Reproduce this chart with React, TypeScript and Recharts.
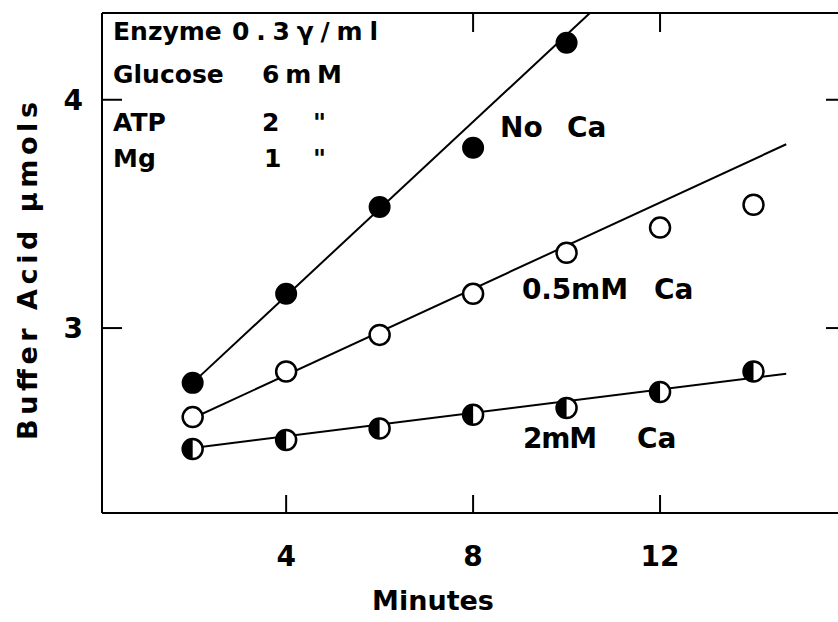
import React from 'react';
import { ComposedChart, Scatter, XAxis, YAxis } from 'recharts';

const minutes = [2, 4, 6, 8, 10, 12, 14];
const noCa = [2.76, 3.15, 3.53, 3.79, 4.25];
const ca05 = [2.61, 2.81, 2.97, 3.15, 3.33, 3.44, 3.54];
const ca2 = [2.47, 2.51, 2.56, 2.62, 2.65, 2.72, 2.81];

// hand-drawn fit lines of the original figure
const fitNoCa = [{ x: 2, y: 2.76 }, { x: 10.5, y: 4.38 }];
const fitCa05 = [{ x: 2, y: 2.605 }, { x: 14.7, y: 3.805 }];
const fitCa2 = [{ x: 2, y: 2.475 }, { x: 14.7, y: 2.8 }];

const xTicks = [4, 8, 12];
const xTopTicks = [8, 12];
const yTicks = [3, 4];

const toPoints = (vals: number[]) => vals.map((y, i) => ({ x: minutes[i], y }));

const FONT = '"DejaVu Sans", sans-serif';
const txt = (size: number) => ({ fontFamily: FONT, fontWeight: 700, fontSize: size, fill: '#000' });

const R = 10;

const FilledDot = ({ cx, cy }: any) => (
  <circle cx={cx} cy={cy} r={R} fill="#000" stroke="#000" strokeWidth={2} />
);

const OpenDot = ({ cx, cy }: any) => (
  <circle cx={cx} cy={cy} r={R} fill="#fff" stroke="#000" strokeWidth={2.5} />
);

const HalfDot = ({ cx, cy }: any) => (
  <g>
    <circle cx={cx} cy={cy} r={R} fill="#fff" stroke="#000" strokeWidth={2.5} />
    <path d={`M${cx},${cy - R} A${R},${R} 0 0 0 ${cx},${cy + R} Z`} fill="#000" />
  </g>
);

const NoDot = () => <g />;

const BottomTick = ({ x, y, payload }: any) => (
  <g>
    <line x1={x} y1={y} x2={x} y2={y - 18} stroke="#000" strokeWidth={2} />
    <text x={x} y={y + 53} textAnchor="middle" style={txt(28)}>{payload.value}</text>
  </g>
);

const TopTick = ({ x, y }: any) => (
  <line x1={x} y1={y} x2={x} y2={y + 19} stroke="#000" strokeWidth={2} />
);

const LeftTick = ({ x, y, payload }: any) => (
  <g>
    <line x1={x} y1={y} x2={x + 20} y2={y} stroke="#000" strokeWidth={2} />
    <text x={x - 19} y={y + 10} textAnchor="end" style={txt(28)}>{payload.value}</text>
  </g>
);

const RightTick = ({ x, y }: any) => (
  <line x1={x} y1={y} x2={x - 21} y2={y} stroke="#000" strokeWidth={2} />
);

const axisLine = { stroke: '#000', strokeWidth: 2 };
const fitLine = { stroke: '#000', strokeWidth: 2 };

export default function App() {
  return (
    <div style={{ position: 'absolute', left: 0, top: 0, width: 838, height: 622, overflow: 'hidden', background: '#fff' }}>
      <ComposedChart width={850} height={622} margin={{ top: 12, right: 2, bottom: 49, left: 42 }}>
        <XAxis
          xAxisId={0}
          dataKey="x"
          type="number"
          domain={[0.06, 16]}
          allowDataOverflow
          ticks={xTicks}
          interval={0}
          height={60}
          tickSize={0}
          tickMargin={0}
          tickLine={false}
          axisLine={axisLine}
          tick={<BottomTick />}
        />
        <XAxis
          xAxisId="top"
          orientation="top"
          dataKey="x"
          type="number"
          domain={[0.06, 16]}
          allowDataOverflow
          ticks={xTopTicks}
          interval={0}
          height={1}
          tickSize={0}
          tickMargin={0}
          tickLine={false}
          axisLine={axisLine}
          tick={<TopTick />}
        />
        <YAxis
          yAxisId={0}
          type="number"
          domain={[2.19, 4.38]}
          allowDataOverflow
          ticks={yTicks}
          interval={0}
          width={60}
          tickSize={0}
          tickMargin={0}
          tickLine={false}
          axisLine={axisLine}
          tick={<LeftTick />}
        />
        <YAxis
          yAxisId="right"
          orientation="right"
          type="number"
          domain={[2.19, 4.38]}
          allowDataOverflow
          ticks={yTicks}
          interval={0}
          width={1}
          tickSize={0}
          tickMargin={0}
          tickLine={false}
          axisLine={axisLine}
          tick={<RightTick />}
        />
        <Scatter data={fitNoCa} dataKey="y" line={fitLine} shape={<NoDot />} isAnimationActive={false} />
        <Scatter data={fitCa05} dataKey="y" line={fitLine} shape={<NoDot />} isAnimationActive={false} />
        <Scatter data={fitCa2} dataKey="y" line={fitLine} shape={<NoDot />} isAnimationActive={false} />
        <Scatter data={toPoints(noCa)} dataKey="y" shape={<FilledDot />} isAnimationActive={false} />
        <Scatter data={toPoints(ca05)} dataKey="y" shape={<OpenDot />} isAnimationActive={false} />
        <Scatter data={toPoints(ca2)} dataKey="y" shape={<HalfDot />} isAnimationActive={false} />
      </ComposedChart>
      <svg width={838} height={622} style={{ position: 'absolute', left: 0, top: 0, pointerEvents: 'none' }}>
        <g style={txt(25)}>
          <text x={113} y={40}>Enzyme</text>
          <text x={232} y={40} textLength={146}>0.3γ/ml</text>
          <text x={113} y={83}>Glucose</text>
          <text x={262} y={83} textLength={80}>6mM</text>
          <text x={113} y={131}>ATP</text>
          <text x={262} y={131}>2</text>
          <text x={313} y={131}>"</text>
          <text x={113} y={167}>Mg</text>
          <text x={264} y={167}>1</text>
          <text x={313} y={167}>"</text>
        </g>
        <g style={txt(28)}>
          <text x={500} y={137}>No</text>
          <text x={567} y={137}>Ca</text>
          <text x={522} y={299} textLength={106}>0.5mM</text>
          <text x={654} y={299}>Ca</text>
          <text x={523} y={448} textLength={74}>2mM</text>
          <text x={637} y={448}>Ca</text>
        </g>
        <text x={433} y={610} textAnchor="middle" style={txt(27)}>Minutes</text>
        <text
          transform="translate(37,271) rotate(-90)"
          textAnchor="middle"
          textLength={338}
          style={txt(27)}
        >
          Buffer Acid μmols
        </text>
      </svg>
    </div>
  );
}
